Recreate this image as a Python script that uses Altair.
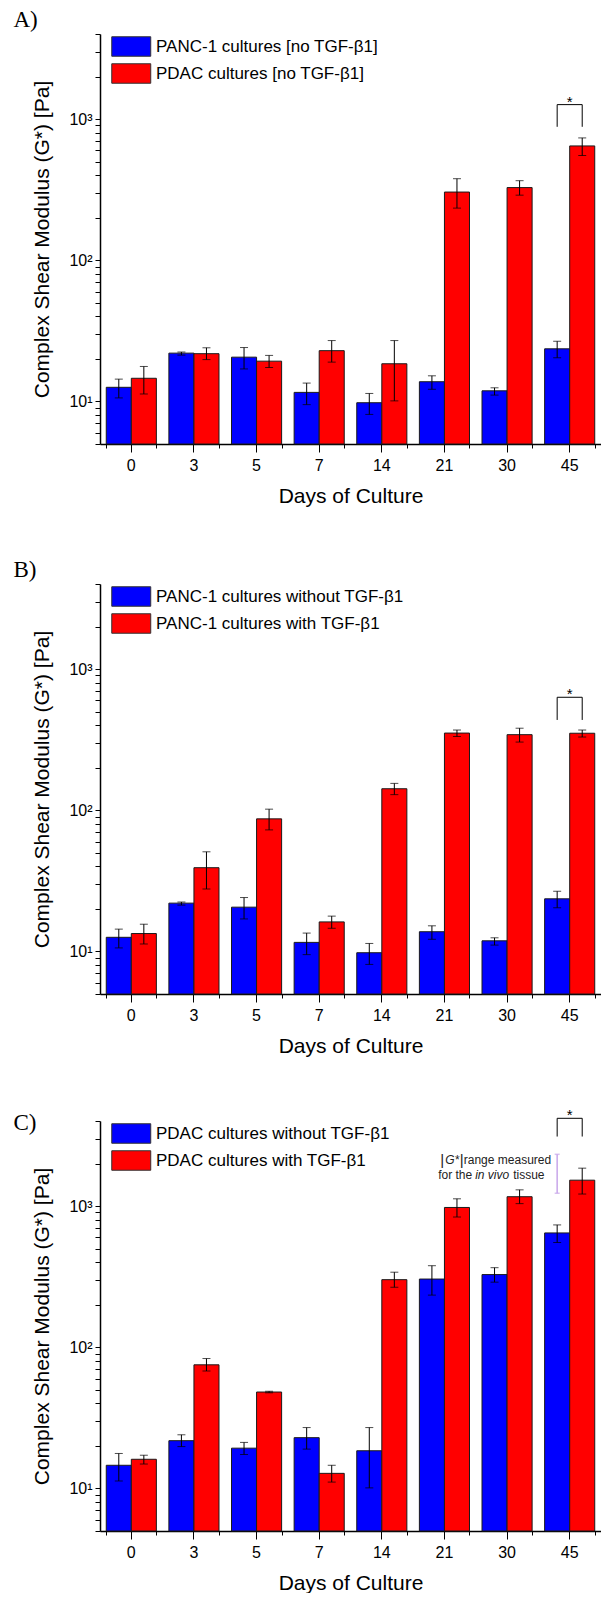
import altair as alt
import pandas as pd

days = ["0", "3", "5", "7", "14", "21", "30", "45"]

panc1_no_tgf = [12.6, 22.0, 20.6, 11.6, 9.8, 13.8, 11.9, 23.6]
panc1_no_tgf_lo = [10.6, 21.3, 17.0, 9.5, 8.1, 12.2, 11.1, 20.4]
panc1_no_tgf_hi = [14.4, 22.4, 24.1, 13.5, 11.4, 15.2, 12.5, 26.7]

pdac_no_tgf = [14.6, 21.8, 19.3, 22.9, 18.5, 304, 327, 645]
pdac_no_tgf_lo = [11.3, 19.8, 17.4, 19.0, 10.1, 234, 289, 552]
pdac_no_tgf_hi = [17.7, 24.0, 21.2, 27.0, 27.0, 378, 366, 735]

panc1_tgf = [13.4, 39.2, 86.9, 16.2, 142, 352, 343, 351]
panc1_tgf_lo = [11.3, 27.7, 72.6, 14.6, 129, 333, 304, 330]
panc1_tgf_hi = [15.6, 50.8, 101.8, 17.8, 155, 370, 381, 370]

pdac_tgf = [16.1, 75.1, 48.2, 12.8, 301, 977, 1164, 1524]
pdac_tgf_lo = [14.9, 67.9, 47.6, 11.1, 266, 836, 1040, 1216]
pdac_tgf_hi = [17.2, 83.2, 48.8, 14.6, 340, 1125, 1302, 1854]

# significance brackets (leg bottom, bracket top) at day 45
bracket_a = [881, 1265]
bracket_b = [436, 631]
bracket_c = [3105, 4180]

# in vivo |G*| range (panel C)
invivo_range = [1232, 2324]

y_ticks = [5, 6, 7, 8, 9, 10, 20, 30, 40, 50, 60, 70, 80, 90,
           100, 200, 300, 400, 500, 600, 700, 800, 900,
           1000, 2000, 3000, 4000]

W, H = 501, 410
FONT = "Liberation Sans"
YTITLE = "Complex Shear Modulus (G*) [Pa]"
YSCALE = alt.Scale(type="log", domain=[5, 4000], nice=False)
Y_AXIS = alt.Axis(
    values=y_ticks,
    labelExpr="datum.value == 10 ? '10¹' : datum.value == 100 ? '10²' : datum.value == 1000 ? '10³' : ''",
    tickSize=5, orient="left", title=YTITLE,
    labelPadding=3, titlePadding=16, grid=False)


def Y(field):
    return alt.Y(field, scale=YSCALE, axis=Y_AXIS, stack=None, title=YTITLE)


def panel(letter, name_a, a, a_lo, a_hi, name_b, b, b_lo, b_hi, bracket,
          extra=False, title_offset=2):
    groups = [name_a, name_b]
    df = pd.DataFrame({
        "day": days * 2,
        "group": [name_a] * 8 + [name_b] * 8,
        "g": ["a"] * 8 + ["b"] * 8,
        "value": a + b,
        "lo": a_lo + b_lo,
        "hi": a_hi + b_hi,
    })
    oscale = alt.Scale(type="band", paddingInner=0, paddingOuter=0)
    xo_bar = alt.XOffset("g:N", sort=["a", "b"], scale=oscale)
    xo = alt.XOffset("g:N", sort=["a", "b"], scale=oscale, bandPosition=0.5)
    xs = alt.Scale(type="band", paddingInner=0.2, paddingOuter=0.1)
    x_main = alt.X("day:N", sort=days, scale=xs,
                   axis=alt.Axis(title="Days of Culture", labelAngle=0, tickSize=8,
                                 labelPadding=5, titlePadding=12, grid=False,
                                 orient="bottom"))
    x_plain = alt.X("day:N", sort=days, scale=xs, axis=None)

    bars = alt.Chart(df).mark_bar(stroke="#1a1a1a", strokeWidth=1).encode(
        x=x_main,
        xOffset=xo_bar,
        y=Y("value:Q"),
        color=alt.Color("group:N", sort=groups,
                        scale=alt.Scale(domain=groups, range=["#0000ff", "#ff0000"]),
                        legend=alt.Legend(title=None, orient="none", legendX=11, legendY=2,
                                          symbolType="M-1,-1H3V1H-1Z", symbolSize=380,
                                          symbolStrokeColor="#333333", symbolStrokeWidth=1,
                                          symbolOpacity=1, labelFontSize=17, labelFont=FONT,
                                          labelColor="black", labelOffset=24, labelLimit=500,
                                          padding=0, rowPadding=2)),
    )
    err = alt.Chart(df).mark_rule(color="black", strokeWidth=1).encode(
        x=alt.X("day:N", sort=days, scale=xs,
                axis=alt.Axis(tickBand="extent", tickSize=4, labels=False, domain=False,
                              title=None, grid=False, orient="bottom")),
        xOffset=xo,
        y=Y("lo:Q"),
        y2="hi:Q",
    )
    cap_lo = alt.Chart(df).mark_tick(color="black", size=8, thickness=1, orient="horizontal").encode(
        x=x_plain, xOffset=xo, y=Y("lo:Q"))
    cap_hi = alt.Chart(df).mark_tick(color="black", size=8, thickness=1, orient="horizontal").encode(
        x=x_plain, xOffset=xo, y=Y("hi:Q"))

    br = pd.DataFrame({
        "day": ["45"] * 4,
        "g": ["a", "a", "b", "b"],
        "value": [bracket[0], bracket[1], bracket[1], bracket[0]],
        "o": [0, 1, 2, 3],
    })
    bracket_line = alt.Chart(br).mark_line(color="black", strokeWidth=1).encode(
        x=x_plain, xOffset=xo, y=Y("value:Q"), order="o:Q")
    star_df = pd.DataFrame({"day": ["45"], "value": [bracket[1]], "t": ["*"]})
    star = alt.Chart(star_df).mark_text(fontSize=15, font=FONT, baseline="alphabetic", dy=2,
                                        color="black").encode(
        x=x_plain, y=Y("value:Q"), text="t:N")

    layers = [bars, err, cap_lo, cap_hi, bracket_line, star]

    if extra:
        rng = pd.DataFrame({"day": ["45"], "g": ["a"],
                            "lo": [invivo_range[0]], "hi": [invivo_range[1]]})
        lav = "#c8a6ea"
        layers.append(alt.Chart(rng).mark_rule(color=lav, strokeWidth=1.5).encode(
            x=x_plain, xOffset=xo, y=Y("lo:Q"), y2="hi:Q"))
        layers.append(alt.Chart(rng).mark_tick(color=lav, size=5, thickness=1.5, orient="horizontal").encode(
            x=x_plain, xOffset=xo, y=Y("lo:Q")))
        layers.append(alt.Chart(rng).mark_tick(color=lav, size=5, thickness=1.5, orient="horizontal").encode(
            x=x_plain, xOffset=xo, y=Y("hi:Q")))

        line1, line2 = 2124, 1656
        pieces = [
            ("|", line1, -115, "center", "normal", 15),
            ("G*", line1, -98, "right", "italic", 12),
            ("|", line1, -95.5, "center", "normal", 15),
            ("range measured", line1, -6, "right", "normal", 12),
            ("for the", line2, -85, "right", "normal", 12),
            ("in vivo", line2, -82, "left", "italic", 12),
            ("tissue", line2, -44, "left", "normal", 12),
        ]
        for txt, val, dx, align, style, size in pieces:
            tdf = pd.DataFrame({"day": ["45"], "g": ["a"], "value": [val], "t": [txt]})
            layers.append(alt.Chart(tdf).mark_text(
                font=FONT, fontSize=size, fontStyle=style, align=align, baseline="middle",
                dx=dx, color="#222222").encode(
                x=x_plain, xOffset=xo, y=Y("value:Q"), text="t:N"))

    return alt.layer(*layers).resolve_axis(x="independent").properties(
        width=W, height=H,
        title=alt.TitleParams(letter, anchor="start", frame="bounds", font="Liberation Serif",
                              fontSize=23, fontWeight="normal", color="black", dx=-18.5,
                              offset=title_offset),
    )


pa = panel("A)", "PANC-1 cultures [no TGF-β1]", panc1_no_tgf, panc1_no_tgf_lo, panc1_no_tgf_hi,
           "PDAC cultures [no TGF-β1]", pdac_no_tgf, pdac_no_tgf_lo, pdac_no_tgf_hi, bracket_a)
pb = panel("B)", "PANC-1 cultures without TGF-β1", panc1_no_tgf, panc1_no_tgf_lo, panc1_no_tgf_hi,
           "PANC-1 cultures with TGF-β1", panc1_tgf, panc1_tgf_lo, panc1_tgf_hi, bracket_b)
pc = panel("C)", "PDAC cultures without TGF-β1", pdac_no_tgf, pdac_no_tgf_lo, pdac_no_tgf_hi,
           "PDAC cultures with TGF-β1", pdac_tgf, pdac_tgf_lo, pdac_tgf_hi, bracket_c,
           extra=True, title_offset=-27)

chart = alt.vconcat(pa, pb, pc, spacing=52).resolve_scale(color="independent").properties(
    padding={"left": 5, "top": 0, "right": 0, "bottom": 0}
).configure_view(stroke=None).configure_axis(
    labelFont=FONT, titleFont=FONT, labelFontSize=16, titleFontSize=21,
    titleFontWeight="normal", labelColor="black", titleColor="black",
    domainColor="black", domainWidth=1.5, tickColor="black", tickWidth=1,
)

chart.save("out.html", embed_options={"renderer": "svg", "actions": False})
